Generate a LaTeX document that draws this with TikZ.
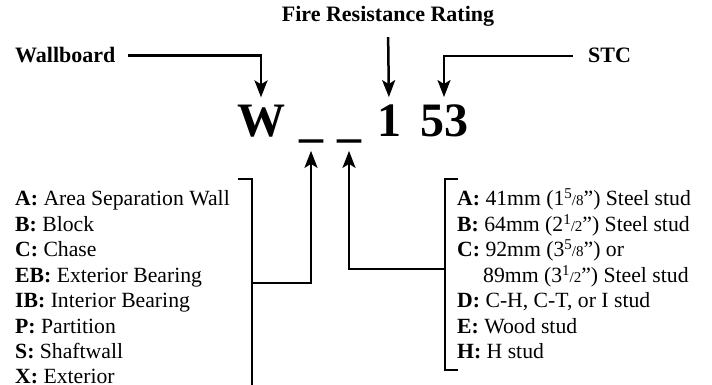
\documentclass[tikz,border=0pt]{standalone}
\usepackage{fontspec}
\setmainfont{Liberation Serif}
\usetikzlibrary{arrows.meta}
\tikzset{
  conn/.style={line width=2.5pt, line join=miter},
  arr/.style={conn, -{Stealth[length=17pt, width=13pt, inset=4pt]}},
  lbl/.style={font=\bfseries\fontsize{22}{25}\selectfont, inner sep=0pt},
  big/.style={font=\bfseries\fontsize{48}{52}\selectfont, inner sep=0pt, anchor=base},
  item/.style={font=\fontsize{21.7}{25}\selectfont, inner sep=0pt, anchor=base west},
}
\newcommand{\frc}[2]{{\fontsize{15}{15}\selectfont\raisebox{0.45em}{#1}/#2}}
\begin{document}
\begin{tikzpicture}[x=1pt, y=-1pt]
\useasboundingbox (0,0) rectangle (712,385);
\clip (0,0) rectangle (712,385);
% labels
\node[lbl, anchor=base west] (wb) at (15,63) {Wallboard};
\node[lbl, anchor=base] (frr) at (388,22) {Fire Resistance Rating};
\node[lbl, anchor=base west] (stc) at (588,63) {STC};
% code
\node[big] (W) at (261,137) {W};
\node[big] (u1) at (311,137) {\_};
\node[big] (u2) at (349,137) {\_};
\node[big] (one) at (389,137) {1};
\node[big] (ft) at (444,137) {53};
% top arrows
\draw[arr, shorten >=8pt] ([xshift=12pt]wb.east) -| (W.north);
\draw[arr, shorten <=10pt, shorten >=8pt] (frr.south) -- (one.north);
\draw[arr, shorten >=8pt] ([xshift=-15pt]stc.west) -| (ft.north);
% brackets
\coordinate (lt) at (238,179);
\coordinate (lc) at (252,179);
\coordinate (lb) at (252,395);
\coordinate (lm) at (252,283);
\draw[conn] (lt) -- (lc) -- (lb);
\coordinate (rt) at (458,179);
\coordinate (rc) at (445,179);
\coordinate (rd) at (445,370);
\coordinate (rb) at (458,370);
\coordinate (rm) at (445,269);
\draw[conn] (rt) -- (rc) -- (rd) -- (rb);
% up arrows
\draw[arr, shorten >=7pt] (lm) -| (u1.south);
\draw[arr, shorten >=7pt] (rm) -| (u2.south);
% left list
\node[item] (l1) at (15,205.5) {\textbf{A:} Area Separation Wall};
\node[item] (l2) at (15,231) {\textbf{B:} Block};
\node[item] (l3) at (15,256.5) {\textbf{C:} Chase};
\node[item] (l4) at (15,282) {\textbf{EB:} Exterior Bearing};
\node[item] (l5) at (15,307.5) {\textbf{IB:} Interior Bearing};
\node[item] (l6) at (15,333) {\textbf{P:} Partition};
\node[item] (l7) at (15,358.5) {\textbf{S:} Shaftwall};
\node[item] (l8) at (15,383.5) {\textbf{X:} Exterior};
% right list
\node[item] (r1) at (457,205.5) {\textbf{A:} 41mm (1\frc{5}{8}”) Steel stud};
\node[item] (r2) at (457,231) {\textbf{B:} 64mm (2\frc{1}{2}”) Steel stud};
\node[item] (r3) at (457,256.5) {\textbf{C:} 92mm (3\frc{5}{8}”) or};
\node[item] (r4) at (483,282) {89mm (3\frc{1}{2}”) Steel stud};
\node[item] (r5) at (457,307.5) {\textbf{D:} C-H, C-T, or I stud};
\node[item] (r6) at (457,333) {\textbf{E:} Wood stud};
\node[item] (r7) at (457,358.5) {\textbf{H:} H stud};
\end{tikzpicture}
\end{document}
